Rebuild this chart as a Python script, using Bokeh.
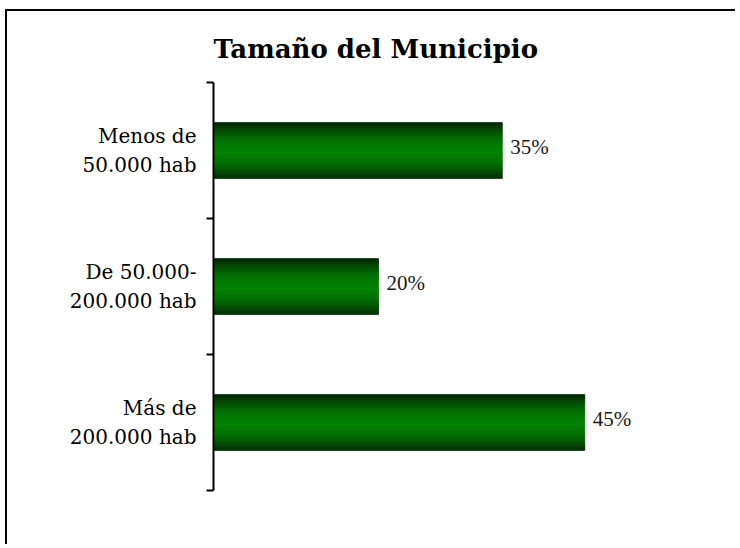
from bokeh.plotting import figure
from bokeh.models import Range1d, FixedTicker, ColumnDataSource, LabelSet
from bokeh.embed import file_html
from bokeh.resources import INLINE

# ---- data ----
categories = ["Más de\n200.000 hab", "De 50.000-\n200.000 hab", "Menos de\n50.000 hab"]  # bottom -> top
values = [45, 20, 35]
value_labels = ["45%", "20%", "35%"]
title_text = "Tamaño del Municipio"

FONT = "DejaVu Serif"
BAR_H = 0.41
N_STRIPS = 28
EDGE = (0, 36, 0)
CENTER = (0, 128, 0)
LINE_OFF = 0.10546875

p = figure(width=730, height=535, x_range=Range1d(0, 60), y_range=Range1d(0, 3),
           output_backend="svg", toolbar_location=None,
           min_border_left=206, min_border_right=29, min_border_top=71, min_border_bottom=56)
p.styles = {"border-left": "2px solid #000", "border-top": "2px solid #000",
            "margin-left": "5px", "margin-top": "9px"}
p.outline_line_color = None
p.xaxis.visible = False
p.xgrid.visible = False
p.ygrid.visible = False

# y axis: ticks at category boundaries, two label lines per category
centers = [i + 0.5 for i in range(len(categories))]
tick_pos, overrides = [], {}
for c, cat in zip(centers, categories):
    l1, l2 = cat.split("\n")
    tick_pos += [c + LINE_OFF, c - LINE_OFF]
    overrides[c + LINE_OFF] = l1
    overrides[c - LINE_OFF] = l2
ax = p.yaxis[0]
ax.ticker = FixedTicker(ticks=tick_pos, minor_ticks=[0, 1, 2, 3])
ax.major_label_overrides = overrides
ax.major_label_text_font = FONT
ax.major_label_text_font_size = "20px"
ax.major_label_text_color = "black"
ax.major_label_standoff = 10
ax.axis_line_color = "black"
ax.axis_line_width = 2
ax.minor_tick_line_color = "black"
ax.minor_tick_line_width = 2
ax.minor_tick_out = 7
ax.minor_tick_in = 0
ax.major_tick_line_color = None
ax.major_tick_out = 0
ax.major_tick_in = 0

# gradient bars built from thin strips
ys, hs, rs, cols = [], [], [], []
for i, v in enumerate(values):
    for k in range(N_STRIPS):
        t = (k + 0.5) / N_STRIPS
        f = 1 - abs(2 * t - 1) ** 1.8
        c = tuple(int(round(EDGE[j] + (CENTER[j] - EDGE[j]) * f)) for j in range(3))
        ys.append(centers[i] - BAR_H / 2 + t * BAR_H)
        hs.append(BAR_H / N_STRIPS)
        rs.append(v)
        cols.append("#%02x%02x%02x" % c)
strips = ColumnDataSource(dict(y=ys, h=hs, right=rs, color=cols))
p.hbar(y="y", height="h", left=0, right="right", fill_color="color",
       line_color="color", line_width=0.8, source=strips)

# value labels
vsrc = ColumnDataSource(dict(x=values, y=centers, text=value_labels))
p.add_layout(LabelSet(x="x", y="y", text="text", source=vsrc, x_offset=8, y_offset=4,
                      text_font=FONT, text_font_size="21px", text_color="#1a1a1a",
                      text_baseline="middle", text_align="left"))

p.title.text = title_text
p.title.text_font = FONT
p.title.text_font_style = "bold"
p.title.text_font_size = "26px"
p.title.text_color = "black"
p.title.align = "left"
p.title.offset = 0
p.title.standoff = 38

open("out.html", "w").write(file_html(p, INLINE))
